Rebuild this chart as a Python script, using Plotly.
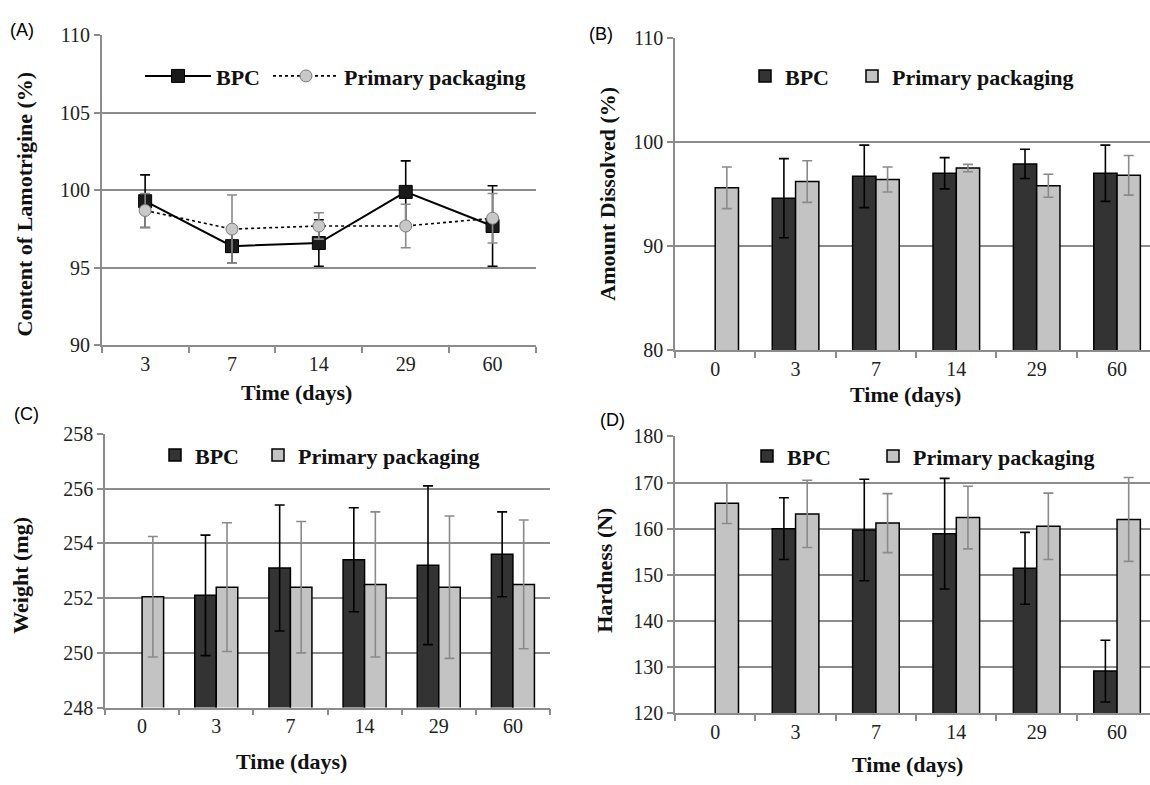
import plotly.graph_objects as go

# ---------------- data ----------------
days_A = ["3", "7", "14", "29", "60"]
A_bpc = [99.3, 96.4, 96.6, 99.9, 97.7]
A_bpc_err = [1.7, 1.1, 1.5, 2.0, 2.6]
A_pp = [98.7, 97.5, 97.7, 97.7, 98.2]
A_pp_err = [1.1, 2.2, 0.85, 1.4, 1.6]

days = ["0", "3", "7", "14", "29", "60"]
B_bpc = [None, 94.6, 96.7, 97.0, 97.9, 97.0]
B_bpc_err = [0, 3.8, 3.0, 1.5, 1.4, 2.7]
B_pp = [95.6, 96.2, 96.4, 97.5, 95.8, 96.8]
B_pp_err = [2.0, 2.0, 1.2, 0.35, 1.1, 1.9]

C_bpc = [None, 252.1, 253.1, 253.4, 253.2, 253.6]
C_bpc_err = [0, 2.2, 2.3, 1.9, 2.9, 1.55]
C_pp = [252.05, 252.4, 252.4, 252.5, 252.4, 252.5]
C_pp_err = [2.2, 2.35, 2.4, 2.65, 2.6, 2.35]

D_bpc = [None, 160.0, 159.7, 158.9, 151.4, 129.1]
D_bpc_err = [0, 6.7, 11.0, 12.0, 7.8, 6.7]
D_pp = [165.5, 163.2, 161.2, 162.4, 160.5, 162.0]
D_pp_err = [4.4, 7.3, 6.4, 6.8, 7.2, 9.1]

# ---------------- style ----------------
W, H = 1150, 785
SERIF = "Liberation Serif, Times New Roman, serif"
DARK = "#333333"
LIGHT = "#c3c3c3"
GRID = "#8c8c8c"
ERR_PP = "#8a8a8a"


def px_x(p):
    return p / W


def px_y(p):
    return 1 - p / H


fig = go.Figure()

# Panel A : lines
fig.add_trace(go.Scatter(
    x=days_A, y=A_bpc, name="BPC", mode="lines+markers",
    line=dict(color="black", width=2),
    marker=dict(symbol="square", size=13, color="#1a1a1a", line=dict(color="black", width=1)),
    error_y=dict(type="data", array=A_bpc_err, visible=True, color="black", thickness=1.6, width=5),
    xaxis="x", yaxis="y", legend="legend"))
fig.add_trace(go.Scatter(
    x=days_A, y=A_pp, name="Primary packaging", mode="lines+markers",
    line=dict(color="black", width=1.6, dash="dot"),
    marker=dict(symbol="circle", size=12, color="#c8c8c8", line=dict(color="#7a7a7a", width=1)),
    error_y=dict(type="data", array=A_pp_err, visible=True, color=ERR_PP, thickness=1.6, width=5),
    xaxis="x", yaxis="y", legend="legend2"))

panels = [
    ("x2", "y2", B_bpc, B_bpc_err, B_pp, B_pp_err, "legend3", "legend4"),
    ("x3", "y3", C_bpc, C_bpc_err, C_pp, C_pp_err, "legend5", "legend6"),
    ("x4", "y4", D_bpc, D_bpc_err, D_pp, D_pp_err, "legend7", "legend8"),
]
for xa, ya, bv, be, pv, pe, l1, l2 in panels:
    fig.add_trace(go.Bar(
        x=days, y=bv, name="BPC", marker=dict(color=DARK, line=dict(color="black", width=1.5)),
        error_y=dict(type="data", array=be, visible=True, color="black", thickness=1.6, width=5),
        xaxis=xa, yaxis=ya, legend=l1))
    fig.add_trace(go.Bar(
        x=days, y=pv, name="Primary packaging", marker=dict(color=LIGHT, line=dict(color="black", width=1.5)),
        error_y=dict(type="data", array=pe, visible=True, color=ERR_PP, thickness=1.6, width=5),
        xaxis=xa, yaxis=ya, legend=l2))

tickfont = dict(family=SERIF, size=20, color="#222222")
titlefont = dict(family=SERIF, size=22, color="#111111", weight="bold")


def xaxis(dom, rng, anchor):
    return dict(domain=dom, type="category", range=rng, showline=True, linecolor=GRID, linewidth=1.5,
                ticks="outside", tickson="boundaries", ticklen=6, tickwidth=1.5, tickcolor=GRID,
                showgrid=False, tickfont=tickfont, zeroline=False, anchor=anchor)


def yaxis(dom, rng, dt, anchor):
    return dict(domain=dom, range=rng, dtick=dt, tick0=rng[0], showline=True, linecolor=GRID, linewidth=1.5,
                ticks="outside", ticklen=6, tickwidth=1.5, tickcolor=GRID, showgrid=True,
                gridcolor=GRID, gridwidth=1.5, zeroline=False, tickfont=tickfont, anchor=anchor)


# pixel layout
A_x = [px_x(101.7), px_x(536)]
A_y = [px_y(344), px_y(25)]
B_x = [px_x(675), 1.0]
B_y = [px_y(349), px_y(27.7)]
C_x = [px_x(105), px_x(550)]
C_y = [px_y(716.7), px_y(435)]
D_x = [px_x(675), 1.0]
D_y = [px_y(722.3), px_y(437.7)]

leg_font = dict(family=SERIF, size=22, color="#111111", weight="bold")


def legend(xp, yp, iw=30):
    return dict(x=px_x(xp), y=px_y(yp), xanchor="left", yanchor="middle", orientation="h",
                bgcolor="rgba(0,0,0,0)", font=leg_font, itemwidth=iw, tracegroupgap=0)


fig.update_layout(
    width=W, height=H, margin=dict(l=0, r=0, t=0, b=0),
    paper_bgcolor="white", plot_bgcolor="white",
    barmode="group", bargap=0.42, bargroupgap=0,
    showlegend=True,
    xaxis=xaxis(A_x, [-0.5, 4.5], "y"),
    yaxis=yaxis(A_y, [90, 110], 5, "x"),
    xaxis2=xaxis(B_x, [-0.5, 5.41], "y2"),
    yaxis2=yaxis(B_y, [80, 110], 10, "x2"),
    xaxis3=xaxis(C_x, [-0.5, 5.5], "y3"),
    yaxis3=yaxis(C_y, [248, 258], 2, "x3"),
    xaxis4=xaxis(D_x, [-0.5, 5.41], "y4"),
    yaxis4=yaxis(D_y, [120, 180], 10, "x4"),
    legend=legend(140, 67, 66),
    legend2=legend(268, 67, 66),
    legend3=legend(745, 67),
    legend4=legend(852, 67),
    legend5=legend(155, 457),
    legend6=legend(258, 457),
    legend7=legend(747, 458),
    legend8=legend(873, 458),
)

# panel labels
for txt, xp, yp in [("(A)", 22, 20), ("(B)", 601, 24), ("(C)", 26, 415), ("(D)", 612, 421)]:
    fig.add_annotation(text=txt, x=px_x(xp), y=px_y(yp), xref="paper", yref="paper",
                       showarrow=False, xanchor="center", yanchor="middle",
                       font=dict(family="Liberation Sans", size=18, color="black"))

# axis titles
for txt, xp, yp in [("Time (days)", 296, 393), ("Time (days)", 905, 395),
                     ("Time (days)", 291, 772), ("Time (days)", 907, 775)]:
    fig.add_annotation(text=txt, x=px_x(xp), y=px_y(yp), xref="paper", yref="paper",
                       showarrow=False, xanchor="center", yanchor="middle", font=titlefont)
for txt, xp, yp in [("Content of Lamotrigine (%)", 24, 199), ("Amount Dissolved (%)", 608, 188),
                     ("Weight (mg)", 21, 581), ("Hardness (N)", 605, 576)]:
    fig.add_annotation(text=txt, x=px_x(xp), y=px_y(yp), xref="paper", yref="paper", textangle=-90,
                       showarrow=False, xanchor="center", yanchor="middle", font=titlefont)

fig.write_html("out.html")
